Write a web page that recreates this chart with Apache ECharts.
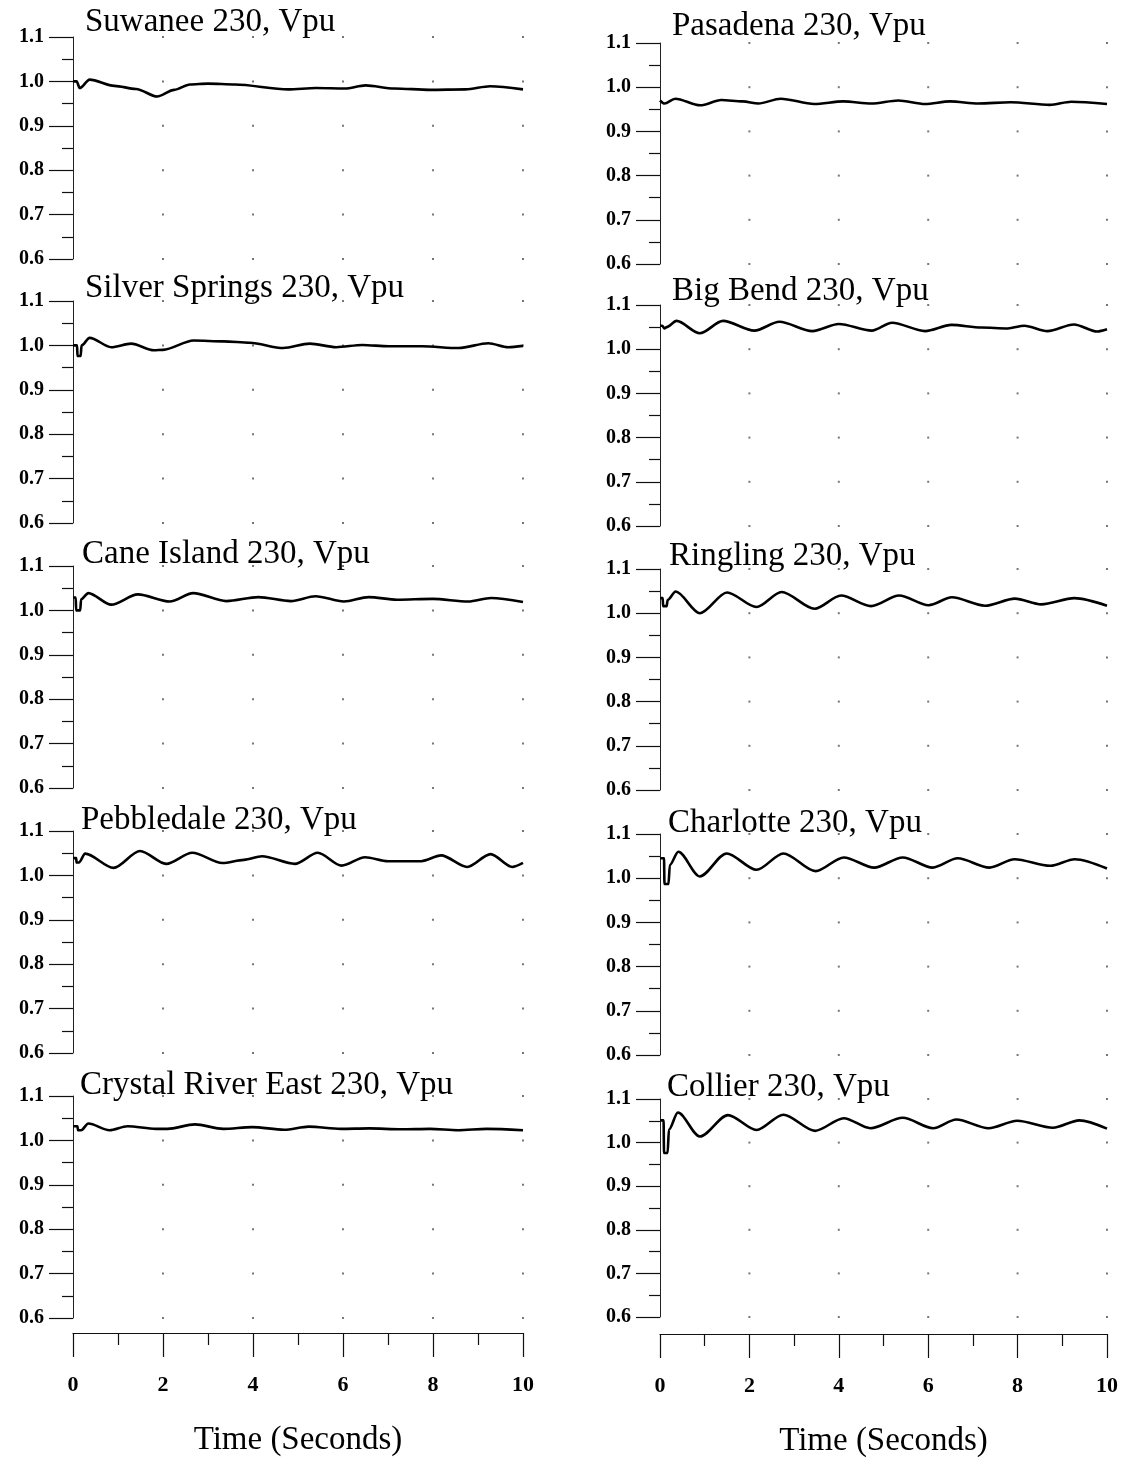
<!DOCTYPE html>
<html>
<head>
<meta charset="utf-8">
<script src="https://cdn.jsdelivr.net/npm/echarts@6/dist/echarts.min.js"></script>
<style>
  html, body { margin: 0; padding: 0; background: #fff; }
  #chart { width: 1122px; height: 1459px; }
</style>
</head>
<body>
<div id="chart"></div>
<script>
// bus voltages in pu, [time s, Vpu]
const suwanee = [[0,1.0],[0.08,1.0],[0.15,0.985],[0.37,1.004],[0.92,0.99],[1.4,0.983],[1.87,0.966],[2.25,0.981],[2.6,0.993],[3.0,0.995],[3.6,0.993],[4.78,0.982],[5.4,0.985],[6.04,0.984],[6.5,0.991],[7.14,0.984],[7.93,0.981],[8.72,0.982],[9.27,0.989],[10,0.982]];
const silverSprings = [[0,1.0],[0.09,1.0],[0.1,0.976],[0.17,0.976],[0.19,1.0],[0.37,1.017],[0.85,0.996],[1.29,1.004],[1.8,0.989],[2.0,0.99],[2.68,1.011],[3.35,1.009],[3.93,1.006],[4.67,0.994],[5.26,1.004],[5.85,0.996],[6.43,1.001],[7.02,0.998],[7.76,0.998],[8.57,0.994],[9.23,1.005],[9.67,0.996],[10,0.999]];
const caneIsland = [[0,1.029],[0.06,1.029],[0.07,1.0],[0.16,1.0],[0.18,1.025],[0.34,1.039],[0.85,1.013],[1.44,1.036],[2.15,1.02],[2.67,1.039],[3.41,1.021],[4.12,1.03],[4.84,1.021],[5.39,1.032],[6.02,1.02],[6.57,1.03],[7.2,1.024],[7.99,1.026],[8.78,1.02],[9.29,1.028],[10,1.019]];
const pebbledale = [[0,1.039],[0.07,1.039],[0.08,1.029],[0.13,1.029],[0.27,1.049],[0.9,1.017],[1.49,1.055],[2.07,1.026],[2.65,1.051],[3.32,1.028],[3.8,1.035],[4.2,1.043],[4.93,1.026],[5.44,1.051],[5.97,1.022],[6.49,1.041],[7.0,1.032],[7.74,1.032],[8.18,1.045],[8.76,1.019],[9.28,1.048],[9.76,1.019],[10,1.028]];
const crystalRiverEast = [[0,1.032],[0.1,1.032],[0.11,1.023],[0.18,1.023],[0.34,1.038],[0.81,1.023],[1.21,1.032],[1.84,1.026],[2.1,1.026],[2.71,1.036],[3.34,1.026],[3.98,1.03],[4.69,1.024],[5.24,1.031],[5.95,1.026],[6.58,1.027],[7.3,1.025],[7.93,1.026],[8.56,1.023],[9.19,1.026],[10,1.023]];
const pasadena = [[0,0.97],[0.1,0.963],[0.34,0.974],[0.9,0.959],[1.37,0.971],[1.85,0.968],[2.2,0.963],[2.7,0.974],[3.45,0.962],[4.1,0.968],[4.73,0.963],[5.33,0.97],[5.93,0.962],[6.49,0.968],[7.12,0.963],[7.84,0.966],[8.72,0.96],[9.2,0.967],[10,0.962]];
const bigBend = [[0,1.053],[0.05,1.053],[0.1,1.047],[0.15,1.05],[0.37,1.064],[0.89,1.036],[1.41,1.064],[2.11,1.042],[2.67,1.062],[3.41,1.041],[4.0,1.057],[4.74,1.042],[5.19,1.06],[5.93,1.041],[6.52,1.055],[7.19,1.049],[7.78,1.047],[8.15,1.053],[8.67,1.041],[9.26,1.056],[9.78,1.04],[10,1.045]];
const ringling = [[0,1.034],[0.06,1.034],[0.07,1.016],[0.15,1.016],[0.17,1.03],[0.35,1.049],[0.89,1.0],[1.5,1.047],[2.16,1.014],[2.72,1.048],[3.46,1.01],[4.05,1.04],[4.72,1.016],[5.35,1.04],[6.01,1.018],[6.53,1.036],[7.27,1.017],[7.94,1.033],[8.53,1.02],[9.27,1.034],[10,1.017]];
const charlotte = [[0,1.045],[0.09,1.045],[0.1,0.987],[0.19,0.987],[0.22,1.03],[0.41,1.06],[0.89,1.004],[1.49,1.056],[2.16,1.019],[2.76,1.056],[3.48,1.016],[4.11,1.047],[4.79,1.024],[5.43,1.047],[6.1,1.024],[6.66,1.045],[7.37,1.024],[7.93,1.043],[8.73,1.028],[9.28,1.043],[10,1.022]];
const collier = [[0,1.051],[0.08,1.051],[0.09,0.976],[0.17,0.976],[0.2,1.03],[0.4,1.069],[0.89,1.014],[1.52,1.063],[2.16,1.029],[2.76,1.064],[3.47,1.027],[4.11,1.056],[4.71,1.033],[5.43,1.057],[6.11,1.033],[6.63,1.053],[7.35,1.033],[7.99,1.05],[8.79,1.034],[9.38,1.051],[10,1.032]];

const panelTitles = [
  'Suwanee 230, Vpu', 'Silver Springs 230, Vpu', 'Cane Island 230, Vpu', 'Pebbledale 230, Vpu', 'Crystal River East 230, Vpu',
  'Pasadena 230, Vpu', 'Big Bend 230, Vpu', 'Ringling 230, Vpu', 'Charlotte 230, Vpu', 'Collier 230, Vpu'
];
const panelData = [suwanee, silverSprings, caneIsland, pebbledale, crystalRiverEast,
                   pasadena, bigBend, ringling, charlotte, collier];

const yTicks = [0.6, 0.7, 0.8, 0.9, 1.0, 1.1];
const xTicks = [0, 2, 4, 6, 8, 10];
const xAxisTitle = 'Time (Seconds)';

// layout
const FONT = 'Liberation Serif';
const TITLE_SIZE = 33;
const colLeft = [73, 660];
const colWidth = [450, 447];
const colTops = [[37, 301, 566, 831, 1096], [43, 305, 569, 834, 1099]];
const colHeight = [222, 221];
const xAxisOffset = [15, 17];
// how far the title baseline sits above the 1.1 line
const titleLift = [[4, 2, 1, 0, 0], [6, 3, 2, 0, 1]];
const titleIndent = [[12, 12, 9, 8, 7], [12, 12, 9, 8, 7]];

const chart = echarts.init(document.getElementById('chart'));

const grids = [], xAxes = [], yAxes = [], series = [], titles = [];

// dotted grid points at x ticks (except 0) and y ticks
const dotPts = [];
xTicks.filter(x => x > 0).forEach(x => yTicks.forEach(y => dotPts.push([x, y])));

panelData.forEach((data, i) => {
  const col = i < 5 ? 0 : 1;
  const row = i % 5;
  const top = colTops[col][row];
  const isBottom = row === 4;

  grids.push({ left: colLeft[col], width: colWidth[col], top: top, height: colHeight[col] });

  xAxes.push({
    type: 'value', gridIndex: i, min: 0, max: 10, interval: 2,
    show: isBottom,
    offset: xAxisOffset[col],
    name: isBottom ? xAxisTitle : '',
    nameLocation: 'middle',
    nameGap: 91,
    nameTextStyle: { fontFamily: FONT, fontSize: TITLE_SIZE, color: '#000' },
    axisLine: { show: true, lineStyle: { color: '#111', width: 1.2 } },
    axisTick: { show: true, length: 24, lineStyle: { color: '#111', width: 1.2 } },
    minorTick: { show: true, splitNumber: 2, length: 12, lineStyle: { color: '#111', width: 1.2 } },
    axisLabel: { margin: 41, fontFamily: FONT, fontSize: 22, fontWeight: 'bold', color: '#000' },
    splitLine: { show: false }
  });

  yAxes.push({
    type: 'value', gridIndex: i, min: 0.6, max: 1.1, interval: 0.1,
    axisLine: { show: true, lineStyle: { color: '#222', width: 1 } },
    axisTick: { show: true, length: 24, lineStyle: { color: '#111', width: 1.2 } },
    minorTick: { show: true, splitNumber: 2, length: 11, lineStyle: { color: '#111', width: 1.2 } },
    axisLabel: {
      margin: 29, fontFamily: FONT, fontSize: 20, fontWeight: 'bold', color: '#000',
      formatter: v => v.toFixed(1)
    },
    splitLine: { show: false }
  });

  series.push({
    type: 'scatter', xAxisIndex: i, yAxisIndex: i, data: dotPts,
    symbol: 'rect', symbolSize: 2, silent: true,
    itemStyle: { color: '#555' }
  });

  series.push({
    name: panelTitles[i], type: 'line', xAxisIndex: i, yAxisIndex: i,
    data: data, showSymbol: false, smooth: 0.3, smoothMonotone: 'x',
    lineStyle: { color: '#000', width: 2.6 }
  });

  titles.push({
    text: panelTitles[i],
    left: colLeft[col] + titleIndent[col][row],
    top: top - titleLift[col][row] - 27,
    padding: 0,
    textStyle: { fontFamily: FONT, fontSize: TITLE_SIZE, fontWeight: 'normal', color: '#000' }
  });
});

chart.setOption({
  backgroundColor: '#fff',
  animation: false,
  title: titles,
  grid: grids,
  xAxis: xAxes,
  yAxis: yAxes,
  series: series
});
</script>
</body>
</html>
